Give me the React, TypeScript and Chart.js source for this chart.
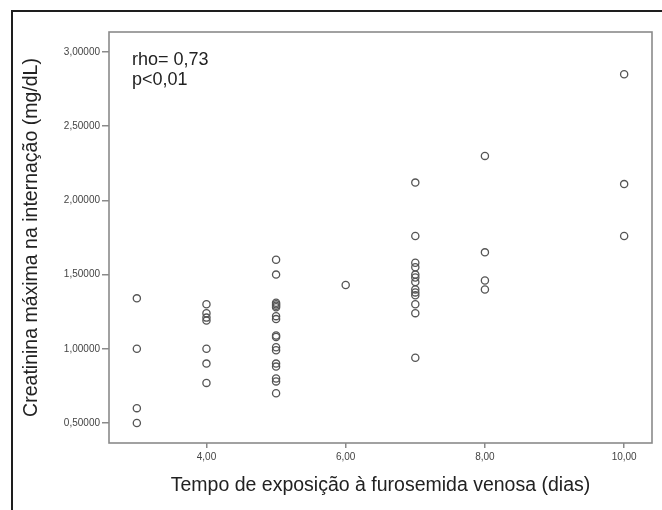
import React, { useEffect, useRef } from "react";
import { Chart, registerables } from "chart.js";

Chart.register(...registerables);

// Tick labels
const daysTicks = [4, 6, 8, 10];
const creatinineTicks = [0.5, 1.0, 1.5, 2.0, 2.5, 3.0];

// Exposure days (categories) and creatinine values per day
const exposureDays = [3, 4, 5, 6, 7, 8, 10];
const creatDay3 = [1.34, 1.0, 0.6, 0.5];
const creatDay4 = [1.3, 1.24, 1.21, 1.19, 1.0, 0.9, 0.77];
const creatDay5 = [1.6, 1.5, 1.31, 1.3, 1.29, 1.28, 1.22, 1.2, 1.09, 1.08, 1.01, 0.99, 0.9, 0.88, 0.8, 0.78, 0.7];
const creatDay6 = [1.43];
const creatDay7 = [2.12, 1.76, 1.58, 1.55, 1.5, 1.48, 1.45, 1.4, 1.38, 1.36, 1.3, 1.24, 0.94];
const creatDay8 = [2.3, 1.65, 1.46, 1.4];
const creatDay10 = [2.85, 2.11, 1.76];

const annotationLines = ["rho= 0,73", "p<0,01"];
const xTitle = "Tempo de exposição à furosemida venosa (dias)";
const yTitle = "Creatinina máxima na internação (mg/dL)";

export default function App() {
  const ref = useRef<HTMLCanvasElement>(null);

  useEffect(() => {
    document.body.style.margin = "0";
    const groups = [creatDay3, creatDay4, creatDay5, creatDay6, creatDay7, creatDay8, creatDay10];
    const points = groups.flatMap((vals, i) => vals.map((v) => ({ x: exposureDays[i], y: v })));

    const framePlugin = {
      id: "frame",
      beforeDraw(chart: any) {
        const ctx = chart.ctx;
        ctx.save();
        ctx.fillStyle = "#ffffff";
        ctx.fillRect(0, 0, chart.width, chart.height);
        ctx.strokeStyle = "#1e1e1e";
        ctx.lineWidth = 2;
        ctx.strokeRect(12, 11, 720, 620);
        ctx.restore();
      },
      beforeDatasetsDraw(chart: any) {
        const { left, top, right, bottom } = chart.chartArea;
        const ctx = chart.ctx;
        ctx.save();
        ctx.strokeStyle = "#8a8a8a";
        ctx.lineWidth = 1.6;
        ctx.strokeRect(left, top, right - left, bottom - top);
        ctx.restore();
      },
      afterDatasetsDraw(chart: any) {
        const { left, top } = chart.chartArea;
        const ctx = chart.ctx;
        ctx.save();
        ctx.fillStyle = "#222222";
        ctx.font = "18px 'Liberation Sans', Arial, sans-serif";
        ctx.textBaseline = "middle";
        ctx.textAlign = "left";
        annotationLines.forEach((t, i) => ctx.fillText(t, left + 23, top + 28 + i * 20));
        ctx.restore();
      },
    };

    const chart = new Chart(ref.current as HTMLCanvasElement, {
      type: "scatter",
      data: {
        datasets: [
          {
            data: points,
            pointStyle: "circle",
            pointRadius: 3.6,
            pointHoverRadius: 3.6,
            pointBorderWidth: 1.3,
            pointBorderColor: "#555555",
            pointBackgroundColor: "rgba(255,255,255,0)",
          },
        ],
      },
      options: {
        responsive: false,
        animation: false,
        devicePixelRatio: 1,
        layout: { padding: { top: 32, right: 10, bottom: 0, left: 0 } },
        plugins: { legend: { display: false }, tooltip: { enabled: false } },
        scales: {
          x: {
            type: "linear",
            min: 2.6,
            max: 10.4,
            afterBuildTicks: (scale: any) => {
              scale.ticks = daysTicks.map((v) => ({ value: v }));
            },
            afterFit: (scale: any) => {
              scale.height = 67;
            },
            border: { display: false },
            grid: { drawOnChartArea: false, drawTicks: true, tickLength: 5, color: "#8a8a8a", lineWidth: 1.5 },
            ticks: {
              padding: 3,
              color: "#444444",
              font: { family: "'Liberation Sans', Arial, sans-serif", size: 10 },
              maxRotation: 0,
              callback: (v: any) => Number(v).toFixed(2).replace(".", ","),
            },
            title: {
              display: true,
              text: xTitle,
              color: "#222222",
              font: { family: "'Liberation Sans', Arial, sans-serif", size: 19.5 },
              padding: { top: 0, bottom: 13 },
            },
          },
          y: {
            type: "linear",
            min: 0.365,
            max: 3.135,
            afterBuildTicks: (scale: any) => {
              scale.ticks = creatinineTicks.map((v) => ({ value: v }));
            },
            afterFit: (scale: any) => {
              scale.width = 109;
            },
            border: { display: false },
            grid: { drawOnChartArea: false, drawTicks: true, tickLength: 7, color: "#8a8a8a", lineWidth: 1.5 },
            ticks: {
              padding: 2,
              color: "#444444",
              font: { family: "'Liberation Sans', Arial, sans-serif", size: 10 },
              callback: (v: any) => Number(v).toFixed(5).replace(".", ","),
            },
            title: {
              display: true,
              text: yTitle,
              color: "#222222",
              font: { family: "'Liberation Sans', Arial, sans-serif", size: 19.5 },
              padding: { top: 20, bottom: 0 },
            },
          },
        },
      },
      plugins: [framePlugin],
    });

    return () => chart.destroy();
  }, []);

  return <canvas ref={ref} width={662} height={510} style={{ display: "block" }} />;
}
